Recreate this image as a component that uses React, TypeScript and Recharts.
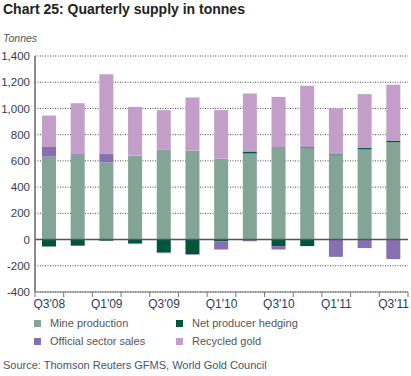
import { Bar, BarChart, CartesianGrid, ReferenceLine, XAxis, YAxis } from "recharts";

const quarters = [
  "Q3'08", "Q4'08", "Q1'09", "Q2'09", "Q3'09", "Q4'09", "Q1'10",
  "Q2'10", "Q3'10", "Q4'10", "Q1'11", "Q2'11", "Q3'11",
];
const mineProduction = [632, 647, 588, 640, 686, 678, 617, 657, 706, 698, 642, 688, 741];
const netHedging = [-53, -47, -9, -30, -99, -111, -14, 15, -50, -50, 8, 10, 14];
const officialSales = [74, 10, 64, -5, -5, -5, -62, -12, -26, 13, -132, -65, -149];
const recycledGold = [240, 383, 608, 372, 301, 406, 370, 442, 382, 462, 350, 411, 426];
const yTicks = [-400, -200, 0, 200, 400, 600, 800, 1000, 1200, 1400];

const SERIES = [
  { key: "mine", name: "Mine production", color: "#83a598" },
  { key: "hedging", name: "Net producer hedging", color: "#00553b" },
  { key: "official", name: "Official sector sales", color: "#8670b1" },
  { key: "recycled", name: "Recycled gold", color: "#c29ec9" },
];

const data = quarters.map((q, i) => ({
  quarter: q,
  mine: mineProduction[i],
  hedging: netHedging[i],
  official: officialSales[i],
  recycled: recycledGold[i],
}));

const FONT = "'Liberation Sans', Arial, sans-serif";
const AXIS_TEXT = "#2f3c58";

function XTick(props: any) {
  const { x, y, payload, index } = props;
  const off = payload?.offset ?? 0;
  const axisY = y - 7;
  return (
    <g>
      <line x1={x - off} x2={x - off} y1={axisY} y2={axisY + 5} stroke="#777" />
      {index === quarters.length - 1 && (
        <line x1={x + off} x2={x + off} y1={axisY} y2={axisY + 5} stroke="#777" />
      )}
      {index % 2 === 0 && (
        <text x={x} y={y} dy="0.71em" textAnchor="middle" fontSize={12} fill={AXIS_TEXT} fontFamily={FONT}>
          {payload.value}
        </text>
      )}
    </g>
  );
}

export default function App() {
  return (
    <div style={{ position: "absolute", left: 0, top: 0, width: 411, height: 376, fontFamily: FONT, background: "#fff" }}>
      <div style={{ position: "absolute", left: 3, top: 1, fontSize: 14, fontWeight: 700, color: "#222" }}>
        Chart 25: Quarterly supply in tonnes
      </div>
      <div style={{ position: "absolute", left: 3, top: 32, fontSize: 10.5, fontStyle: "italic", color: "#555" }}>
        Tonnes
      </div>
      <div style={{ position: "absolute", left: 0, top: 0 }}>
        <BarChart
          width={411}
          height={310}
          data={data}
          stackOffset="sign"
          margin={{ top: 56, right: 3, bottom: 0, left: 0 }}
        >
          <CartesianGrid vertical={false} stroke="#444" strokeDasharray="1 1.5" />
          <YAxis
            width={35}
            domain={[-400, 1400]}
            ticks={yTicks}
            tickLine={false}
            tickSize={5}
            tickMargin={0}
            axisLine={{ stroke: "#666", strokeWidth: 1.5 }}
            tick={{ fontSize: 11.5, fill: AXIS_TEXT, fontFamily: FONT }}
            tickFormatter={(v: number) => v.toLocaleString("en-US")}
            interval={0}
          />
          <XAxis
            dataKey="quarter"
            height={18}
            interval={0}
            tickLine={false}
            tickSize={5}
            tickMargin={2}
            axisLine={{ stroke: "#777" }}
            tick={<XTick />}
          />
          {SERIES.map((s) => (
            <Bar
              key={s.key}
              dataKey={s.key}
              name={s.name}
              stackId="a"
              fill={s.color}
              barSize={14}
              isAnimationActive={false}
            />
          ))}
          <ReferenceLine y={0} stroke="#555" strokeWidth={1.5} />
        </BarChart>
      </div>
      {SERIES.map((s, i) => (
        <div
          key={s.key}
          style={{
            position: "absolute",
            left: i % 2 === 0 ? 34 : 176,
            top: i < 2 ? 317 : 335,
            display: "flex",
            alignItems: "center",
            fontSize: 11,
            color: "#555",
            whiteSpace: "nowrap",
          }}
        >
          <span style={{ display: "inline-block", width: 7, height: 7, background: s.color, marginRight: 9 }} />
          {s.name}
        </div>
      ))}
      <div style={{ position: "absolute", left: 3, top: 359, fontSize: 11, color: "#3a5776", whiteSpace: "nowrap" }}>
        <span style={{ color: "#555" }}>Source:</span> Thomson Reuters GFMS, World Gold Council
      </div>
    </div>
  );
}
